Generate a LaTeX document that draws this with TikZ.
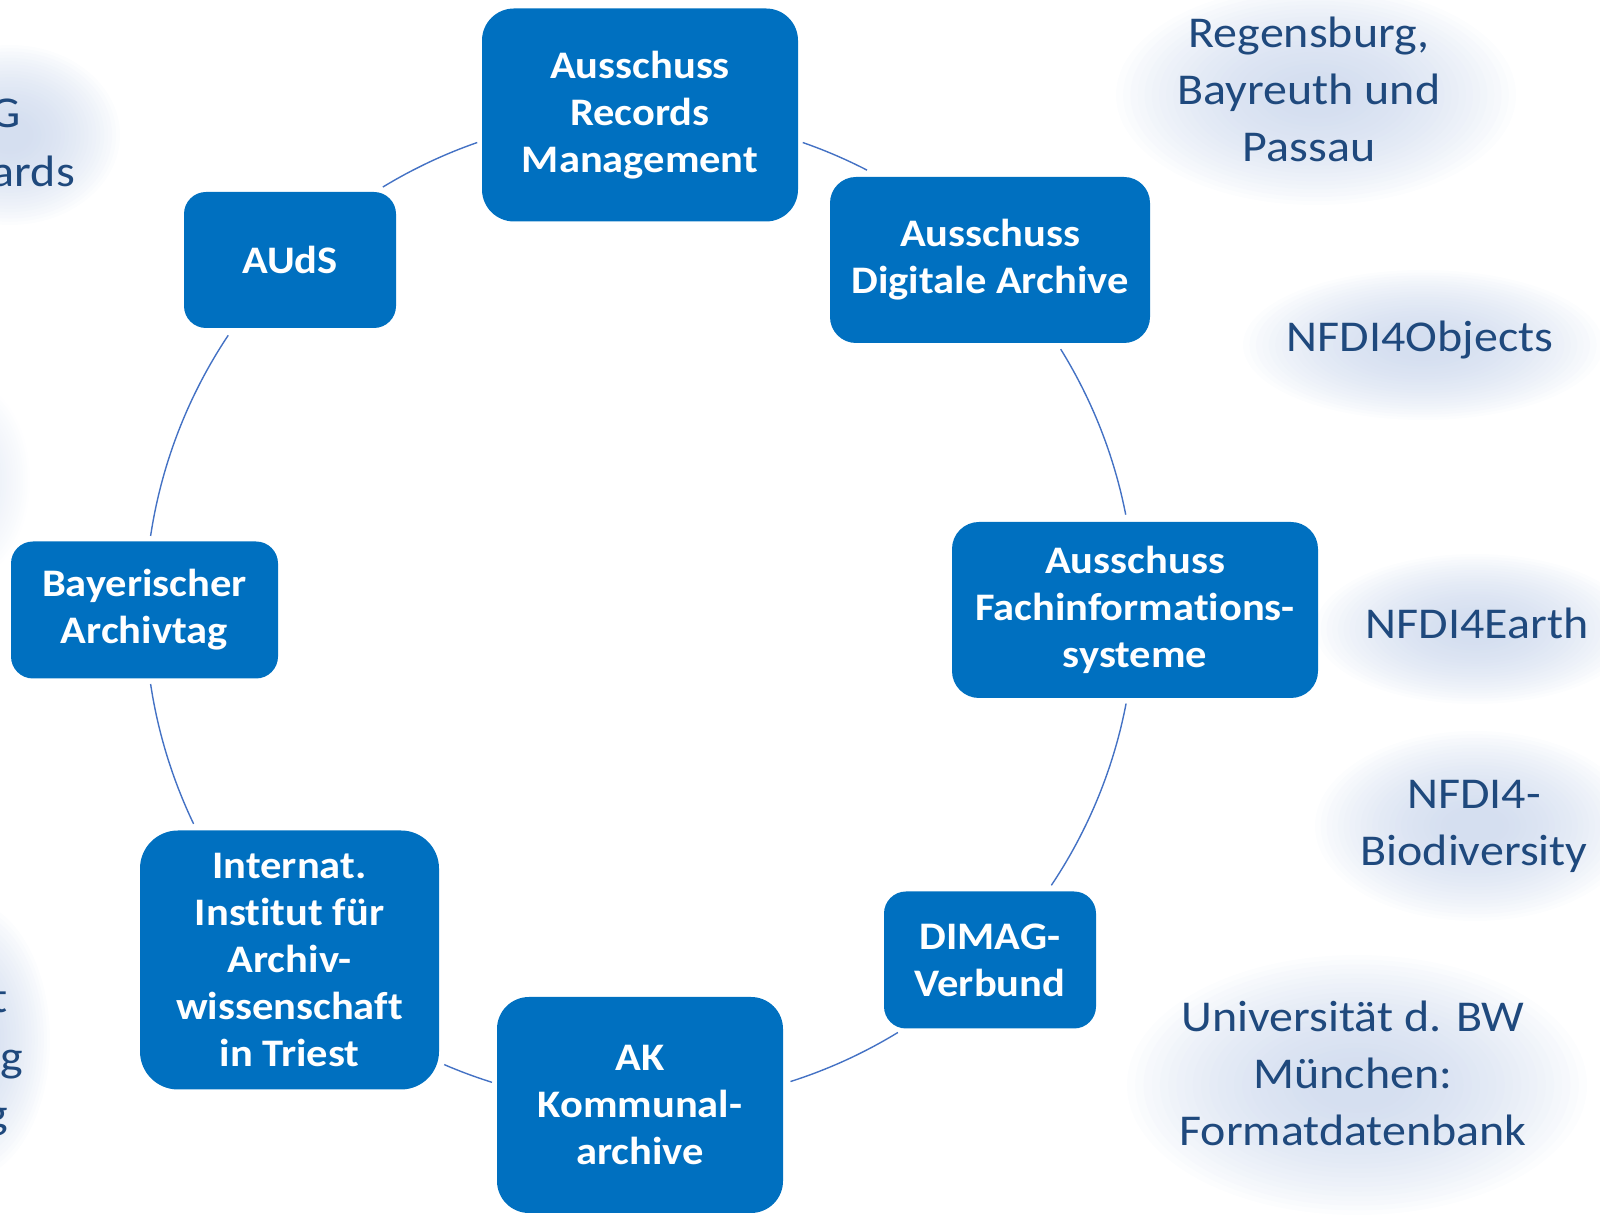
\documentclass[tikz,border=0pt]{standalone}
\usepackage{fontspec}
\setmainfont{Carlito}[FakeStretch=1.09, Ligatures=NoCommon]
\usetikzlibrary{calc}
\definecolor{boxblue}{RGB}{0,112,192}
\definecolor{txtblue}{RGB}{31,73,125}
\definecolor{arcblue}{RGB}{68,114,196}
\definecolor{glowc}{RGB}{196,210,234}
\newcommand\glowat[5]{%
  \foreach \k in {0,...,23}{%
    \fill[glowc, opacity=#5] (#1,#2) ellipse[x radius={#3*(1-\k/28)}, y radius={#4*(1-\k/28)}];}}
\begin{document}
\begin{tikzpicture}[x=1pt,y=1pt,
  box/.style={fill=boxblue, text=white, font=\bfseries\fontsize{39}{47}\selectfont,
    align=center, inner sep=0pt},
  outer/.style={text=txtblue, font=\fontsize{44}{57}\selectfont, align=center, inner sep=0pt},
  arcline/.style={draw=arcblue, line width=1.4pt}
]
\useasboundingbox (0,0) rectangle (1600,1217);
\clip (0,0) rectangle (1600,1217);
% soft glows behind the outer texts
\glowat{1316}{1122}{200}{110}{0.05}
\glowat{1423}{872}{180}{75}{0.05}
\glowat{1475}{588}{160}{75}{0.05}
\glowat{1475}{391}{160}{95}{0.05}
\glowat{1357}{132}{230}{130}{0.05}
\glowat{10}{1082}{110}{90}{0.05}
\glowat{-35}{737}{65}{100}{0.025}
\glowat{-35}{177}{85}{140}{0.05}

\coordinate (c) at (640,607);
% boxes
\node[box, minimum width=316, minimum height=213, rounded corners=32] (rec) at (640,1102) {Ausschuss\\Records\\Management};
\node[box, minimum width=320, minimum height=166, rounded corners=26] (dig) at (990,957) {Ausschuss\\Digitale Archive};
\node[box, minimum width=366, minimum height=176, rounded corners=27] (fach) at (1135,607) {Ausschuss\\Fachinformations-\\systeme};
\node[box, minimum width=212, minimum height=137, rounded corners=22] (dimag) at (990,257) {DIMAG-\\Verbund};
\node[box, minimum width=286, minimum height=216, rounded corners=32] (ak) at (640,112) {AK\\Kommunal-\\archive};
\node[box, minimum width=299, minimum height=259, rounded corners=38] (inst) at (289.5,257) {Internat.\\Institut für\\Archiv-\\wissenschaft\\in Triest};
\node[box, minimum width=267, minimum height=137, rounded corners=22] (bay) at (144.5,607) {Bayerischer\\Archivtag};
\node[box, minimum width=212, minimum height=136, rounded corners=22] (auds) at (290,957) {AUdS};

% arcs of the cycle
\draw[arcline] ($(c)+(109.2:495)$) arc[start angle=109.2, end angle=121.3, radius=495pt];
\draw[arcline] ($(c)+(62.7:495)$) arc[start angle=62.7, end angle=70.8, radius=495pt];
\draw[arcline] ($(c)+(11.1:495)$) arc[start angle=11.1, end angle=31.8, radius=495pt];
\draw[arcline] ($(c)+(-33.8:495)$) arc[start angle=-33.8, end angle=-10.9, radius=495pt];
\draw[arcline] ($(c)+(-72.3:495)$) arc[start angle=-72.3, end angle=-58.6, radius=495pt];
\draw[arcline] ($(c)+(-113.3:495)$) arc[start angle=-113.3, end angle=-107.4, radius=495pt];
\draw[arcline] ($(c)+(188.6:495)$) arc[start angle=188.6, end angle=205.6, radius=495pt];
\draw[arcline] ($(c)+(146.3:495)$) arc[start angle=146.3, end angle=171.4, radius=495pt];

% outer texts
\node[outer] (reg) at (1309,1128) {Regensburg,\\Bayreuth und\\Passau};
\node[outer] (obj) at (1420,877) {NFDI4Objects};
\node[outer] (earth) at (1477,594) {NFDI4Earth};
\node[outer] (bio) at (1474,391) {NFDI4-\\Biodiversity};
\node[outer] (uni) at (1353,144) {Universität d. BW\\München:\\Formatdatenbank};
\node[outer, anchor=base east] (l1) at (21,1089) {G};
\node[outer, anchor=base east] (l2) at (75,1030) {ards};
\node[outer, anchor=base east] (l3) at (8,204) {t};
\node[outer, anchor=base east] (l4) at (23,145) {g};
\node[outer, anchor=base east] (l5) at (8,88) {g};
\end{tikzpicture}
\end{document}
